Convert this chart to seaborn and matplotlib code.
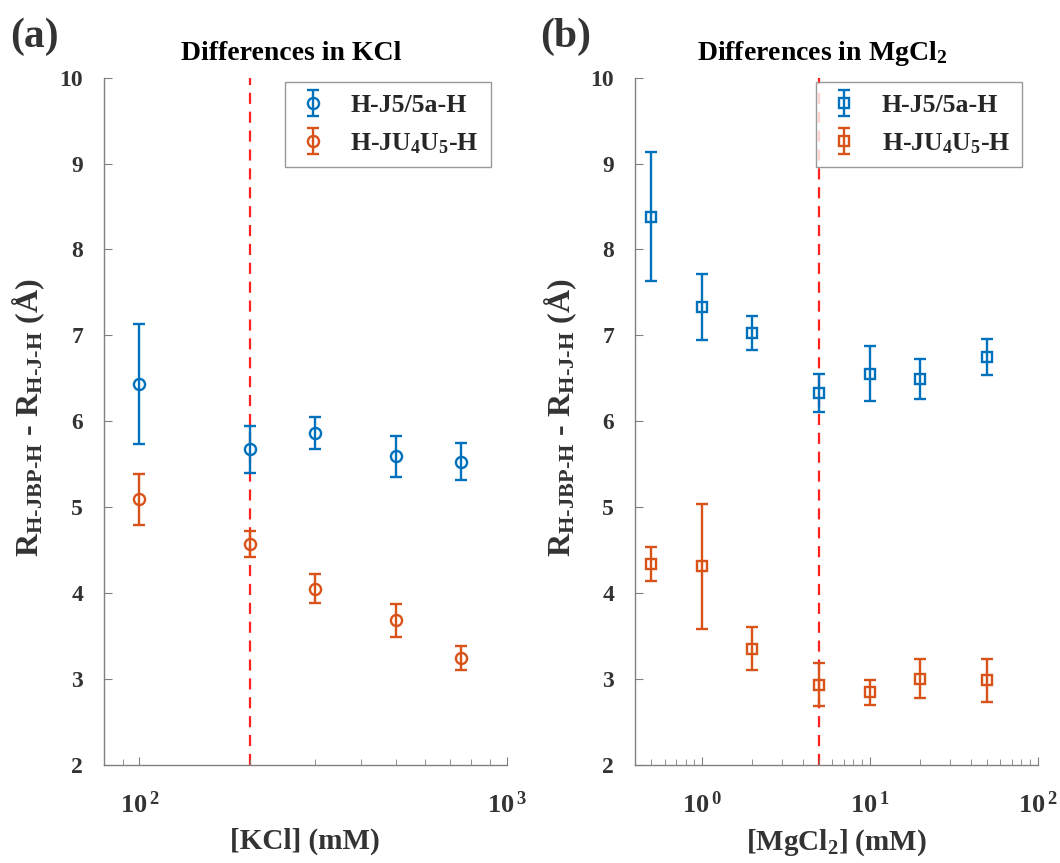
import numpy as np
import pandas as pd
import matplotlib
matplotlib.use('Agg')
import matplotlib.pyplot as plt
from matplotlib.ticker import FuncFormatter, LogLocator
import seaborn as sns

# KCl panel data
kcl_conc = [100, 200, 300, 500, 750]
kcl_j5 = [6.43, 5.67, 5.86, 5.59, 5.53]
kcl_j5_err = [0.70, 0.27, 0.19, 0.24, 0.22]
kcl_ju = [5.09, 4.57, 4.05, 3.68, 3.24]
kcl_ju_err = [0.30, 0.15, 0.17, 0.19, 0.14]

# MgCl2 panel data
mg_conc = [0.5, 1, 2, 5, 10, 20, 50]
mg_j5 = [8.38, 7.33, 7.03, 6.33, 6.55, 6.49, 6.75]
mg_j5_err = [0.75, 0.38, 0.20, 0.22, 0.32, 0.23, 0.21]
mg_ju = [4.34, 4.31, 3.35, 2.93, 2.84, 3.00, 2.98]
mg_ju_err = [0.20, 0.73, 0.25, 0.25, 0.15, 0.23, 0.25]

series_names = ['H-J5/5a-H', 'H-JU$_4$U$_5$-H']
colors = ['#0072BD', '#D95319']

sns.set_style('ticks')
plt.rcParams['font.family'] = ['Liberation Serif', 'DejaVu Serif']
plt.rcParams['font.weight'] = 'bold'
plt.rcParams['mathtext.fontset'] = 'custom'
plt.rcParams['mathtext.rm'] = 'Liberation Serif:bold'
plt.rcParams['mathtext.it'] = 'Liberation Serif:bold'
plt.rcParams['mathtext.bf'] = 'Liberation Serif:bold'
plt.rcParams['mathtext.default'] = 'rm'
plt.rcParams['xtick.direction'] = 'in'
plt.rcParams['ytick.direction'] = 'in'

fig = plt.figure(figsize=(10.6, 8.63), dpi=100)
ax1 = fig.add_axes([0.098, 0.114, 0.380, 0.796])
ax2 = fig.add_axes([0.599, 0.114, 0.380, 0.796])

panels = [
    (ax1, kcl_conc, [kcl_j5, kcl_ju], [kcl_j5_err, kcl_ju_err], 'o', 8,
     200, (80, 1000), '[KCl] (mM)', 'Differences in KCl', '(a)', 0.010),
    (ax2, mg_conc, [mg_j5, mg_ju], [mg_j5_err, mg_ju_err], 's', 6.5,
     5, (0.4, 100), '[MgCl$_2$] (mM)', 'Differences in MgCl$_2$', '(b)', 0.510),
]

sci = FuncFormatter(lambda v, p: r'$10^{\,%d}$' % round(np.log10(v)))

for ax, x, ys, errs, mk, ms, vline, xlim, xlabel, title, tag, tagx in panels:
    for y, e, name, c in zip(ys, errs, series_names, colors):
        ax.errorbar(x, y, yerr=e, fmt=mk, color=c, mfc='none', mec=c,
                    ms=ms, mew=1.7, elinewidth=1.7, capsize=4.5, capthick=1.7,
                    label=name)
    ax.axvline(vline, color='#FF2020', ls=(0, (5, 3.5)), lw=1.6, zorder=0)
    ax.set_xscale('log')
    ax.set_xlim(*xlim)
    ax.set_ylim(2, 10)
    ax.set_yticks(range(2, 11))
    ax.xaxis.set_major_locator(LogLocator(base=10, numticks=10))
    ax.xaxis.set_major_formatter(sci)
    ax.set_xlabel(xlabel, fontsize=21, fontweight='bold', color='#333333', va='top')
    ax.xaxis.set_label_coords(0.5, -0.092)
    ax.set_ylabel(r'R$_{\mathrm{H\text{-}JBP\text{-}H}}$ - R$_{\mathrm{H\text{-}J\text{-}H}}$ ($\mathrm{\AA}$)',
                  fontsize=23, fontweight='bold', color='#333333')
    ax.yaxis.set_label_coords(-0.14, 0.505)
    ax.text(0.465, 1.026, title, transform=ax.transAxes, fontsize=20,
            fontweight='bold', ha='center', va='baseline', color='black')
    ax.tick_params(axis='y', which='major', labelsize=17, length=6,
                   color='#808080', labelcolor='#333333', pad=15)
    ax.tick_params(axis='x', which='major', labelsize=19, length=6,
                   color='#808080', labelcolor='#333333', pad=19)
    ax.tick_params(axis='x', which='minor', length=4, color='#808080')
    for lbl in ax.get_yticklabels():
        lbl.set_fontweight('bold')
    sns.despine(ax=ax)
    for s in ['left', 'bottom']:
        ax.spines[s].set_color('#808080')
        ax.spines[s].set_linewidth(1.0)
    leg = ax.legend(loc='upper right', bbox_to_anchor=(0.960, 0.993), borderaxespad=0,
                    fontsize=18.5, frameon=True, fancybox=False, edgecolor='#808080',
                    handlelength=1.3, handletextpad=0.8, borderpad=0.45,
                    labelspacing=0.55)
    leg.get_frame().set_linewidth(1.0)
    fig.text(tagx, 0.957, tag, fontsize=30, fontweight='bold', color='#333333',
             ha='left', va='center')

fig.savefig('out.png', dpi=100)
